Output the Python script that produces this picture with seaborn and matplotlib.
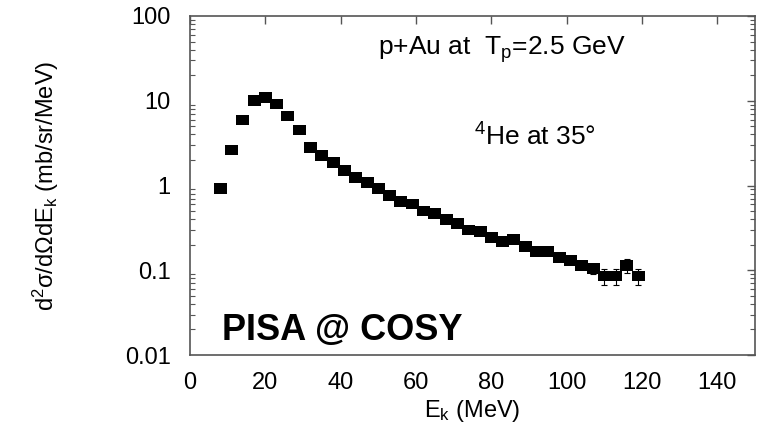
import numpy as np
import pandas as pd
import matplotlib
matplotlib.use("Agg")
import matplotlib.pyplot as plt
from matplotlib.path import Path
from matplotlib.markers import MarkerStyle
from matplotlib.ticker import FixedLocator, FuncFormatter, LogLocator, NullFormatter
import seaborn as sns

# ---- data ----
energy_mev = [8, 11, 14, 17, 20, 23, 26, 29, 32, 35,
              38, 41, 44, 47, 50, 53, 56, 59, 62, 65,
              68, 71, 74, 77, 80, 83, 86, 89, 92, 95,
              98, 101, 104, 107, 110, 113, 116, 119]
cross_section = [0.93, 2.62, 5.93, 10.0, 11.0, 9.16, 6.61, 4.52, 2.79, 2.25,
                 1.88, 1.50, 1.25, 1.08, 0.92, 0.77, 0.64, 0.605, 0.50, 0.47,
                 0.40, 0.358, 0.298, 0.285, 0.243, 0.220, 0.228, 0.190, 0.166, 0.166,
                 0.143, 0.129, 0.114, 0.105, 0.0855, 0.0855, 0.114, 0.0855]
cross_section_err = [0.02, 0.05, 0.1, 0.15, 0.15, 0.15, 0.1, 0.08, 0.05, 0.04,
                     0.03, 0.03, 0.02, 0.02, 0.02, 0.015, 0.015, 0.015, 0.012, 0.012,
                     0.01, 0.01, 0.008, 0.008, 0.008, 0.008, 0.008, 0.008, 0.008, 0.008,
                     0.008, 0.008, 0.01, 0.014, 0.018, 0.018, 0.02, 0.018]
x_ticks = [0, 20, 40, 60, 80, 100, 120, 140]
y_ticks = [0.01, 0.1, 1, 10, 100]
y_tick_labels = ["0.01", "0.1", "1", "10", "100"]

df = pd.DataFrame({"E": energy_mev, "xs": cross_section, "err": cross_section_err})

sns.set_theme(style="white")
plt.rcParams["font.family"] = ["Liberation Sans", "DejaVu Sans"]
plt.rcParams["mathtext.fontset"] = "custom"
plt.rcParams["mathtext.rm"] = "Liberation Sans"
plt.rcParams["mathtext.it"] = "Liberation Sans"
plt.rcParams["mathtext.bf"] = "Liberation Sans:bold"
plt.rcParams["text.color"] = "black"
plt.rcParams["axes.labelcolor"] = "black"
plt.rcParams["xtick.color"] = "black"
plt.rcParams["ytick.color"] = "black"

fig = plt.figure(figsize=(7.58, 4.32), dpi=100)
ax = fig.add_axes([190 / 758, 1 - 355 / 432, 565 / 758, 339 / 432])

# error bars (thin, small caps)
ax.errorbar(df["E"], df["xs"], yerr=df["err"], fmt="none", ecolor="black",
            elinewidth=0.8, capsize=2.5, capthick=0.8, zorder=2)

rect = MarkerStyle(Path([(-1.2, -1), (1.2, -1), (1.2, 1), (-1.2, 1), (-1.2, -1)],
                        [Path.MOVETO, Path.LINETO, Path.LINETO, Path.LINETO, Path.CLOSEPOLY]))
sns.scatterplot(data=df, x="E", y="xs", ax=ax, marker=rect, s=88,
                color="black", edgecolor="none", linewidth=0, zorder=3, legend=False)

ax.set_yscale("log")
ax.set_xlim(0, 150)
ax.set_ylim(0.01, 100)

ax.xaxis.set_major_locator(FixedLocator(x_ticks))
ax.yaxis.set_major_locator(FixedLocator(y_ticks))
ax.yaxis.set_major_formatter(FuncFormatter(lambda v, p: y_tick_labels[y_ticks.index(min(y_ticks, key=lambda t: abs(np.log10(t) - np.log10(v))))]))
ax.yaxis.set_minor_locator(LogLocator(base=10, subs=np.arange(2, 10)))
ax.yaxis.set_minor_formatter(NullFormatter())

ax.tick_params(axis="both", which="major", direction="in", length=6, width=1,
               color="#555555", labelsize=17, labelcolor="black",
               top=True, right=True)
ax.tick_params(axis="x", which="major", pad=12)
ax.tick_params(axis="y", which="major", pad=14)
ax.tick_params(axis="y", which="minor", direction="in", length=3.5, width=0.8,
               color="#555555", left=True, right=True)

for sp in ax.spines.values():
    sp.set_color("#555555")
    sp.set_linewidth(1.2)

ax.set_xlabel(r"E$_\mathregular{k}$ (MeV)", fontsize=17, labelpad=3)
ax.set_ylabel(r"d$^\mathregular{2}$σ/dΩdE$_\mathregular{k}$ (mb/sr/MeV)", fontsize=17, labelpad=4)
ax.yaxis.set_label_coords(-0.228, 0.5)

ax.text(0.333, 0.885, r"p+Au at  T$_\mathregular{p}$=2.5 GeV", transform=ax.transAxes,
        fontsize=19, ha="left", va="baseline")
ax.text(0.503, 0.617, r"$^\mathregular{4}$He at 35°", transform=ax.transAxes,
        fontsize=19, ha="left", va="baseline")
ax.text(0.057, 0.044, "PISA @ COSY", transform=ax.transAxes,
        fontsize=26, fontweight="bold", ha="left", va="baseline")

fig.savefig("out.png", dpi=100)
